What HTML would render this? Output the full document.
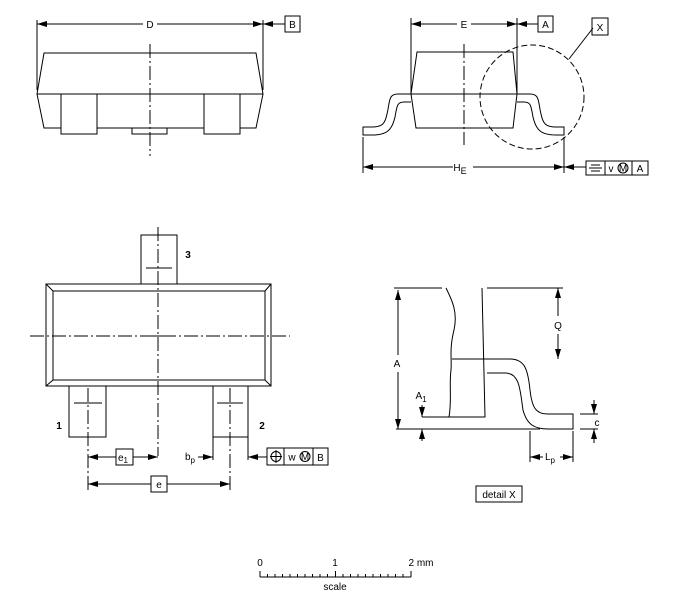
<!DOCTYPE html>
<html><head><meta charset="utf-8"><style>
html,body{margin:0;padding:0;background:#fff}
svg{display:block}
text{font-family:"Liberation Sans",sans-serif;font-size:10px;fill:#000}
</style></head><body>
<svg width="677" height="606" viewBox="0 0 677 606" xmlns="http://www.w3.org/2000/svg">
<defs>
<marker id="a" viewBox="0 0 10 6" refX="10" refY="3" markerWidth="10" markerHeight="6" markerUnits="userSpaceOnUse" orient="auto-start-reverse"><path d="M0,0L10,3L0,6z" fill="#000"/></marker>
</defs>
<g stroke="#000" stroke-width="1" fill="none">
<!-- top-left view -->
<line x1="37" y1="20" x2="37" y2="90"/><line x1="263" y1="20" x2="263" y2="90"/>
<line x1="37" y1="24" x2="143" y2="24" marker-start="url(#a)"/>
<line x1="157" y1="24" x2="263" y2="24" marker-end="url(#a)"/>
<line x1="263" y1="24" x2="285" y2="24" marker-start="url(#a)"/>
<rect x="285" y="16" width="15" height="16"/>
<path d="M44,53H256L263,94L256,128H44L37,94Z"/>
<line x1="37" y1="94" x2="263" y2="94"/>
<rect x="61" y="94" width="36" height="40" fill="#fff"/>
<rect x="204" y="94" width="36" height="40" fill="#fff"/>
<rect x="132" y="128" width="35" height="6"/>
<line x1="150" y1="44" x2="150" y2="156" stroke-dasharray="14,3,2,3"/>
<!-- top-right view -->
<line x1="411" y1="18" x2="411" y2="94"/><line x1="517" y1="18" x2="517" y2="94"/>
<line x1="411" y1="24" x2="457" y2="24" marker-start="url(#a)"/>
<line x1="471" y1="24" x2="517" y2="24" marker-end="url(#a)"/>
<line x1="517" y1="24" x2="538" y2="24" marker-start="url(#a)"/>
<rect x="538" y="16" width="15" height="16"/>
<path d="M417,52H513L517,94L513,128H416L411,94Z"/>
<line x1="411" y1="94" x2="517" y2="94"/>
<path d="M411,94H398C388,94 390,102 387,114C385,124 382,127 372,127H363V135H372C387,135 392,130 395,117C397,106 397,102 404,102H411"/>
<path d="M517,94H530C540,94 538,102 541,114C543,124 546,127 556,127H564V135H556C541,135 536,130 533,117C531,106 531,102 524,102H517"/>
<line x1="464" y1="44" x2="464" y2="145" stroke-dasharray="14,3,2,3"/>
<circle cx="532" cy="97" r="52" stroke-dasharray="6,3"/>
<line x1="569" y1="59" x2="593" y2="28"/>
<rect x="592" y="18" width="16" height="17"/>
<line x1="363" y1="137" x2="363" y2="173"/><line x1="564" y1="137" x2="564" y2="173"/>
<line x1="363" y1="167" x2="453" y2="167" marker-start="url(#a)"/>
<line x1="473" y1="167" x2="564" y2="167" marker-end="url(#a)"/>
<line x1="564" y1="167" x2="586" y2="167" marker-start="url(#a)"/>
<rect x="586" y="161" width="62" height="14"/>
<line x1="605" y1="161" x2="605" y2="175"/><line x1="632" y1="161" x2="632" y2="175"/>
<line x1="591" y1="165" x2="600" y2="165"/><line x1="589" y1="168" x2="602" y2="168"/><line x1="591" y1="171" x2="600" y2="171"/>
<circle cx="623" cy="168" r="5"/>
<!-- bottom-left view -->
<rect x="141" y="235" width="36" height="49"/>
<line x1="146" y1="268" x2="172" y2="268"/>
<rect x="46" y="284" width="225" height="102"/>
<rect x="53" y="291" width="212" height="89"/>
<line x1="46" y1="284" x2="53" y2="291"/><line x1="271" y1="284" x2="265" y2="291"/>
<line x1="46" y1="386" x2="53" y2="380"/><line x1="271" y1="386" x2="265" y2="380"/>
<line x1="30" y1="336" x2="290" y2="336" stroke-dasharray="14,3,2,3"/>
<line x1="158" y1="227" x2="158" y2="456" stroke-dasharray="14,3,2,3"/>
<line x1="150" y1="336" x2="166" y2="336"/>
<rect x="69" y="386" width="37" height="51"/>
<line x1="74" y1="403" x2="102" y2="403"/>
<rect x="213" y="386" width="35" height="51"/>
<line x1="217" y1="403" x2="243" y2="403"/>
<line x1="88" y1="388" x2="88" y2="492" stroke-dasharray="14,3,2,3"/>
<line x1="230" y1="388" x2="230" y2="492" stroke-dasharray="14,3,2,3"/>
<line x1="88" y1="457" x2="116" y2="457" marker-start="url(#a)"/>
<rect x="116" y="449" width="17" height="16"/>
<line x1="133" y1="457" x2="158" y2="457" marker-end="url(#a)"/>
<line x1="213" y1="437" x2="213" y2="460"/>
<line x1="198" y1="457" x2="213" y2="457" marker-end="url(#a)"/>
<line x1="248" y1="437" x2="248" y2="460"/>
<line x1="248" y1="457" x2="267" y2="457" marker-start="url(#a)"/>
<rect x="267" y="448" width="61" height="17"/>
<line x1="284" y1="448" x2="284" y2="465"/><line x1="313" y1="448" x2="313" y2="465"/>
<circle cx="276" cy="456.5" r="5"/>
<line x1="270" y1="456.5" x2="282" y2="456.5"/><line x1="276" y1="450" x2="276" y2="463"/>
<circle cx="305" cy="456.5" r="5"/>
<line x1="88" y1="484" x2="151" y2="484" marker-start="url(#a)"/>
<rect x="151" y="476" width="16" height="16"/>
<line x1="167" y1="484" x2="230" y2="484" marker-end="url(#a)"/>
<!-- detail X -->
<line x1="394" y1="288" x2="442" y2="288"/><line x1="487" y1="288" x2="563" y2="288"/>
<path d="M446,288C452,300 458,312 454,330C449,350 452,360 451,370C449,385 452,400 449,417"/>
<path d="M482,288L485,417H449"/>
<line x1="422" y1="417" x2="449" y2="417"/>
<path d="M452,359H510C525,359 528,370 530,390C532,408 536,414 548,414H573V429H548C535,429 527,425 523,410C520,390 520,373 505,373H487"/>
<line x1="396" y1="429" x2="540" y2="429"/>
<line x1="398" y1="290" x2="398" y2="355" marker-start="url(#a)"/>
<line x1="398" y1="372" x2="398" y2="429" marker-end="url(#a)"/>
<line x1="558" y1="288" x2="558" y2="316" marker-start="url(#a)"/>
<line x1="558" y1="334" x2="558" y2="359" marker-end="url(#a)"/>
<line x1="422" y1="405" x2="422" y2="417" marker-end="url(#a)"/>
<line x1="422" y1="441" x2="422" y2="429" marker-end="url(#a)"/>
<line x1="580" y1="414" x2="598" y2="414"/><line x1="580" y1="429" x2="598" y2="429"/>
<line x1="594" y1="400" x2="594" y2="414" marker-end="url(#a)"/>
<line x1="594" y1="443" x2="594" y2="429" marker-end="url(#a)"/>
<line x1="530" y1="431" x2="530" y2="462"/><line x1="573" y1="431" x2="573" y2="462"/>
<line x1="530" y1="457" x2="543" y2="457" marker-start="url(#a)"/>
<line x1="560" y1="457" x2="573" y2="457" marker-end="url(#a)"/>
<rect x="476" y="486" width="46" height="16"/>
<!-- scale -->
<line x1="260" y1="577" x2="411" y2="577"/>
</g>
<g stroke="#000" stroke-width="1">
<line x1="260" y1="571" x2="260" y2="577"/><line x1="335.5" y1="571" x2="335.5" y2="577"/><line x1="411" y1="571" x2="411" y2="577"/>
<line x1="267.5" y1="574" x2="267.5" y2="577"/><line x1="275" y1="574" x2="275" y2="577"/><line x1="282.5" y1="574" x2="282.5" y2="577"/><line x1="290" y1="574" x2="290" y2="577"/><line x1="297.5" y1="574" x2="297.5" y2="577"/><line x1="305" y1="574" x2="305" y2="577"/><line x1="312.5" y1="574" x2="312.5" y2="577"/><line x1="320" y1="574" x2="320" y2="577"/><line x1="327.5" y1="574" x2="327.5" y2="577"/>
<line x1="343" y1="574" x2="343" y2="577"/><line x1="350.5" y1="574" x2="350.5" y2="577"/><line x1="358" y1="574" x2="358" y2="577"/><line x1="365.5" y1="574" x2="365.5" y2="577"/><line x1="373" y1="574" x2="373" y2="577"/><line x1="380.5" y1="574" x2="380.5" y2="577"/><line x1="388" y1="574" x2="388" y2="577"/><line x1="395.5" y1="574" x2="395.5" y2="577"/><line x1="403" y1="574" x2="403" y2="577"/>
</g>
<g text-anchor="middle">
<text x="150" y="28">D</text>
<text x="292.5" y="28">B</text>
<text x="464" y="28">E</text>
<text x="545.5" y="28">A</text>
<text x="600" y="31">X</text>
<text x="460" y="171">H<tspan dy="3" font-size="9">E</tspan></text>
<text x="611" y="172" font-size="9">v</text>
<text x="623" y="171.5" font-size="8">M</text>
<text x="640" y="172">A</text>
<text x="188" y="258" font-weight="bold">3</text>
<text x="59" y="429" font-weight="bold">1</text>
<text x="262" y="429" font-weight="bold">2</text>
<text x="123" y="461">e<tspan dy="2" font-size="8">1</tspan></text>
<text x="190" y="460">b<tspan dy="3" font-size="8">p</tspan></text>
<text x="292" y="460.5" font-size="9">w</text>
<text x="305" y="460" font-size="8">M</text>
<text x="320.5" y="461">B</text>
<text x="159" y="488">e</text>
<text x="397" y="367">A</text>
<text x="558" y="329">Q</text>
<text x="421" y="399">A<tspan dy="3" font-size="8">1</tspan></text>
<text x="597" y="426">c</text>
<text x="550" y="460">L<tspan dy="3" font-size="8">p</tspan></text>
<text x="499" y="498">detail X</text>
<text x="260" y="566">0</text>
<text x="335" y="566">1</text>
<text x="421" y="566">2 mm</text>
<text x="335" y="590">scale</text>
</g>
</svg>
</body></html>
